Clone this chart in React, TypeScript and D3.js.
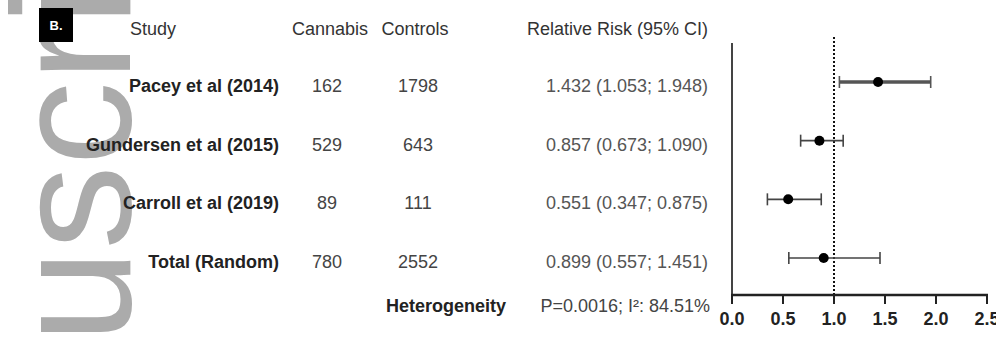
import React from "react";
import * as d3 from "d3";

const studies = ["Pacey et al (2014)", "Gundersen et al (2015)", "Carroll et al (2019)", "Total (Random)"];
const cannabisN = [162, 529, 89, 780];
const controlsN = [1798, 643, 111, 2552];
const rr = [1.432, 0.857, 0.551, 0.899];
const lower = [1.053, 0.673, 0.347, 0.557];
const upper = [1.948, 1.09, 0.875, 1.451];
const xTicks = [0, 0.5, 1, 1.5, 2, 2.5];
const headers = ["Study", "Cannabis", "Controls", "Relative Risk (95% CI)"];
const heterogeneityLabel = "Heterogeneity";
const heterogeneityText = "P=0.0016; I\u00B2: 84.51%";
const panelLabel = "B.";
const watermark = "uscript";

const W = 996;
const H = 338;
const FONT = "'Liberation Sans', Arial, sans-serif";

export default function App() {
  const x = d3.scaleLinear().domain([0, 2.5]).range([732, 987]);
  const y = d3.scalePoint<string>().domain(studies).range([82, 258]);
  const axisY = 295;
  const fmt = d3.format(".3f");
  const barWidth = (i: number) => (i === 0 ? 3.5 : 1.6);
  const barColor = (i: number) => (i === 0 ? "#555" : "#444");

  return (
    <svg
      width={W}
      height={H}
      style={{ position: "absolute", left: 0, top: 0, background: "#fff" }}
      fontFamily={FONT}
    >
      <rect width={W} height={H} fill="#fff" />
      {/* watermark */}
      <text
        transform="translate(130,343) rotate(-90)"
        fontSize={168}
        fill="#ababab"
        fontFamily={FONT}
      >
        {watermark}
      </text>

      {/* panel label */}
      <rect x={39} y={8} width={34} height={34} fill="#000" />
      <text x={56} y={30} fill="#fff" fontSize={13} fontWeight="bold" textAnchor="middle">
        {panelLabel}
      </text>

      {/* headers */}
      <text x={130} y={35} fontSize={18} fill="#333">{headers[0]}</text>
      <text x={330} y={35} fontSize={18} fill="#333" textAnchor="middle">{headers[1]}</text>
      <text x={415} y={35} fontSize={18} fill="#333" textAnchor="middle">{headers[2]}</text>
      <text x={708} y={35} fontSize={18} fill="#333" textAnchor="end">{headers[3]}</text>

      {/* rows */}
      {studies.map((s, i) => {
        const cy = y(s)!;
        return (
          <g key={s}>
            <text x={279} y={cy + 10} fontSize={18} fontWeight="bold" fill="#222" textAnchor="end">{s}</text>
            <text x={327} y={cy + 10} fontSize={18} fill="#444" textAnchor="middle">{cannabisN[i]}</text>
            <text x={418} y={cy + 10} fontSize={18} fill="#444" textAnchor="middle">{controlsN[i]}</text>
            <text x={708} y={cy + 10} fontSize={18} fill="#555" textAnchor="end">
              {`${fmt(rr[i])} (${fmt(lower[i])}; ${fmt(upper[i])})`}
            </text>
          </g>
        );
      })}

      <text x={386} y={312} fontSize={18} fontWeight="bold" fill="#222">{heterogeneityLabel}</text>
      <text x={710} y={312} fontSize={18} fill="#444" textAnchor="end">{heterogeneityText}</text>

      {/* reference line */}
      <line x1={x(1)} x2={x(1)} y1={37} y2={axisY} stroke="#111" strokeWidth={2} strokeDasharray="2,2" />

      {/* axes */}
      <line x1={x(0)} x2={x(0)} y1={43} y2={axisY} stroke="#444" strokeWidth={2} />
      <line x1={x(0) - 1} x2={x(2.5) + 1} y1={axisY} y2={axisY} stroke="#222" strokeWidth={2.5} />
      {xTicks.map((t) => (
        <g key={t}>
          <line x1={x(t)} x2={x(t)} y1={axisY} y2={axisY + 9} stroke="#222" strokeWidth={2} />
          <text x={x(t)} y={325} fontSize={18} fontWeight="bold" fill="#222" textAnchor="middle">
            {t.toFixed(1)}
          </text>
        </g>
      ))}

      {/* error bars */}
      {studies.map((s, i) => {
        const cy = y(s)!;
        return (
          <g key={"eb" + s}>
            <line x1={x(lower[i])} x2={x(upper[i])} y1={cy} y2={cy} stroke={barColor(i)} strokeWidth={barWidth(i)} />
            <line x1={x(lower[i])} x2={x(lower[i])} y1={cy - 6} y2={cy + 6} stroke={barColor(i)} strokeWidth={1.6} />
            <line x1={x(upper[i])} x2={x(upper[i])} y1={cy - 6} y2={cy + 6} stroke={barColor(i)} strokeWidth={1.6} />
            <circle cx={x(rr[i])} cy={cy} r={5} fill="#000" />
          </g>
        );
      })}
    </svg>
  );
}
